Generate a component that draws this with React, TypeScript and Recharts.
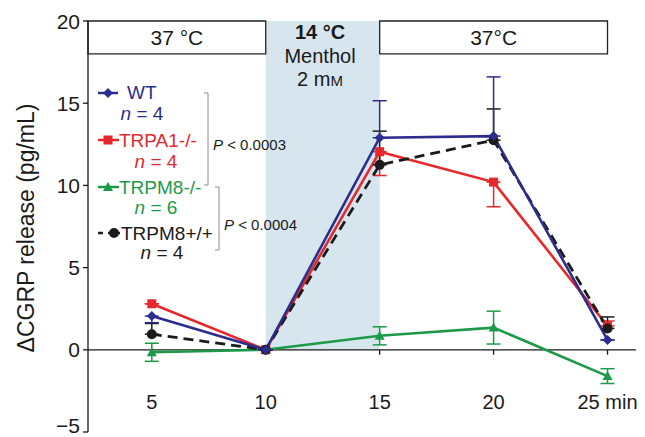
import React from "react";
import {
  LineChart,
  Line,
  XAxis,
  YAxis,
  ReferenceArea,
  ReferenceLine,
  ErrorBar,
} from "recharts";

const minutes = [5, 10, 15, 20, 25];
const xTickLabels = ["5", "10", "15", "20", "25 min"];
const yTicks = [-5, 0, 5, 10, 15, 20];

// mean values (pg/mL)
const wtValues = [2.05, 0, 12.9, 13.0, 0.6];
const trpa1Values = [2.8, 0, 12.05, 10.2, 1.45];
const trpm8KoValues = [-0.15, 0, 0.85, 1.35, -1.6];
const trpm8WtValues = [0.95, 0, 11.25, 12.75, 1.3];

// error bars as [below, above]
const wtErrors = [[0.4, 0], [0, 0], [0, 2.25], [0, 3.6], [0, 0]];
const trpa1Errors = [[0, 0], [0, 0], [1.45, 0], [1.5, 0], [0, 0.3]];
const trpm8KoErrors = [[0.55, 0.55], [0, 0], [0.55, 0.55], [1.0, 1.0], [0.45, 0.45]];
const trpm8WtErrors = [[0, 0.65], [0, 0], [0, 2.05], [0, 1.9], [0, 0.7]];

const seriesNames = ["WT", "TRPA1-/-", "TRPM8-/-", "TRPM8+/+"];
const seriesN = ["4", "4", "6", "4"];

const NAVY = "#2c2d8e";
const RED = "#e5282c";
const GREEN = "#1d9a48";
const BLACK = "#1b1b1b";
const SHADE = "#d7e6ee";
const FONT = '"Liberation Sans", Arial, sans-serif';

const data = minutes.map((t, i) => ({
  t,
  wt: wtValues[i],
  wtErr: wtErrors[i],
  trpa1: trpa1Values[i],
  trpa1Err: trpa1Errors[i],
  ko: trpm8KoValues[i],
  koErr: trpm8KoErrors[i],
  m8wt: trpm8WtValues[i],
  m8wtErr: trpm8WtErrors[i],
}));

function drawShape(shape: string, cx: number, cy: number, color: string, key?: any) {
  if (shape === "diamond") {
    return (
      <polygon
        key={key}
        points={`${cx},${cy - 5} ${cx + 5},${cy} ${cx},${cy + 5} ${cx - 5},${cy}`}
        fill={color}
      />
    );
  }
  if (shape === "square") {
    return <rect key={key} x={cx - 4.5} y={cy - 4.5} width={9} height={9} fill={color} />;
  }
  if (shape === "triangle") {
    return (
      <polygon
        key={key}
        points={`${cx},${cy - 5} ${cx + 5},${cy + 4} ${cx - 5},${cy + 4}`}
        fill={color}
      />
    );
  }
  return <circle key={key} cx={cx} cy={cy} r={5} fill={color} />;
}

const makeDot = (shape: string, color: string) => (props: any) => {
  const { cx, cy, index } = props;
  if (cx == null || cy == null) return <g key={index} />;
  return drawShape(shape, cx, cy, color, index);
};

const XTick = (props: any) => {
  const { x, y, index } = props;
  return (
    <text x={x} y={y - 23} textAnchor="middle" fontSize={20} fill="#1a1a1a" fontFamily={FONT}>
      {xTickLabels[index]}
    </text>
  );
};

const YTick = (props: any) => {
  const { x, y, payload } = props;
  const v = payload.value;
  // the lowest label sits on the page edge; nudge it up so it stays readable
  const yy = v === yTicks[0] ? y - 7 : y;
  return (
    <text x={x} y={yy} dy="0.36em" textAnchor="end" fontSize={21} fill="#1a1a1a" fontFamily={FONT}>
      {v < 0 ? `\u2212${Math.abs(v)}` : `${v}`}
    </text>
  );
};

function NText({ x, y, n, color }: { x: number; y: number; n: string; color: string }) {
  return (
    <text x={x} y={y} textAnchor="middle" fontSize={19} fill={color}>
      <tspan fontStyle="italic">n</tspan> = {n}
    </text>
  );
}

function Overlay() {
  return (
    <svg
      width={645}
      height={437}
      style={{ position: "absolute", left: 0, top: 0, pointerEvents: "none" }}
      fontFamily={FONT}
    >
      {/* y axis title */}
      <text
        x={0}
        y={0}
        transform="translate(34 228) rotate(-90)"
        textAnchor="middle"
        fontSize={23}
        fill="#1a1a1a"
      >
        ΔCGRP release (pg/mL)
      </text>

      {/* shaded period label */}
      <text x={320} y={39} textAnchor="middle" fontSize={20} fontWeight="bold" fill="#1a1a1a">
        14 °C
      </text>
      <text x={320} y={63} textAnchor="middle" fontSize={20} fill="#1a1a1a">
        Menthol
      </text>
      <text x={320} y={86} textAnchor="middle" fontSize={20} fill="#1a1a1a">
        2 m<tspan fontSize={15}>M</tspan>
      </text>

      {/* legend */}
      <line x1={98} y1={93} x2={118} y2={93} stroke={NAVY} strokeWidth={2.5} />
      {drawShape("diamond", 108, 93, NAVY)}
      <text x={127} y={99} fontSize={19} fill={NAVY}>{seriesNames[0]}</text>
      <NText x={142} y={120} n={seriesN[0]} color={NAVY} />

      <line x1={98} y1={140} x2={119} y2={140} stroke={RED} strokeWidth={2.5} />
      {drawShape("square", 108, 140, RED)}
      <text x={119} y={147} fontSize={19} fill={RED}>{seriesNames[1]}</text>
      <NText x={156} y={168} n={seriesN[1]} color={RED} />

      <line x1={98} y1={187} x2={119} y2={187} stroke={GREEN} strokeWidth={2.5} />
      {drawShape("triangle", 108, 187, GREEN)}
      <text x={119} y={194} fontSize={19} fill={GREEN}>{seriesNames[2]}</text>
      <NText x={156} y={214} n={seriesN[2]} color={GREEN} />

      <line x1={98} y1={233} x2={103} y2={233} stroke={BLACK} strokeWidth={2.5} />
      <line x1={108} y1={233} x2={120} y2={233} stroke={BLACK} strokeWidth={2.5} />
      {drawShape("circle", 114, 233, BLACK)}
      <text x={121} y={240} fontSize={19} fill={BLACK}>{seriesNames[3]}</text>
      <NText x={162} y={259} n={seriesN[3]} color={BLACK} />

      {/* significance brackets */}
      <polyline points="204,93 208,93 208,185 204,185" fill="none" stroke="#8c8c8c" strokeWidth={1} />
      <text x={213} y={150} fontSize={15} fill="#1a1a1a">
        <tspan fontStyle="italic">P</tspan> &lt; 0.0003
      </text>
      <polyline points="215,187 219,187 219,250 215,250" fill="none" stroke="#8c8c8c" strokeWidth={1} />
      <text x={224} y={230} fontSize={15} fill="#1a1a1a">
        <tspan fontStyle="italic">P</tspan> &lt; 0.0004
      </text>
    </svg>
  );
}

export default function App() {
  return (
    <div
      style={{
        position: "absolute",
        left: 0,
        top: 0,
        width: 645,
        height: 437,
        background: "#fff",
        fontFamily: FONT,
      }}
    >
      <LineChart
        width={645}
        height={437}
        data={data}
        margin={{ top: 21, right: 9, bottom: 0, left: 0 }}
      >
        <ReferenceArea x1={10} x2={15} y1={0} y2={20} fill={SHADE} fillOpacity={1} stroke="none" />
        <ReferenceArea
          x1={2.2}
          x2={10}
          y1={18}
          y2={20}
          fill="#fff"
          fillOpacity={1}
          stroke="#222"
          strokeWidth={1.3}
          label={{ value: "37 °C", position: "center", fontSize: 21, fill: "#1a1a1a" }}
        />
        <ReferenceArea
          x1={15}
          x2={25}
          y1={18}
          y2={20}
          fill="#fff"
          fillOpacity={1}
          stroke="#222"
          strokeWidth={1.3}
          label={{ value: "37°C", position: "center", fontSize: 21, fill: "#1a1a1a" }}
        />

        <XAxis
          type="number"
          dataKey="t"
          domain={[2.2, 26.25]}
          allowDataOverflow
          ticks={minutes}
          interval={0}
          height={5}
          axisLine={false}
          tickLine={false}
          tickSize={0}
          tickMargin={0}
          tick={<XTick />}
        />
        <YAxis
          type="number"
          domain={[-5, 20]}
          ticks={yTicks}
          interval={0}
          width={88}
          axisLine={{ stroke: "#1a1a1a", strokeWidth: 1.3 }}
          tickLine={{ stroke: "#1a1a1a", strokeWidth: 1.3 }}
          tickSize={5}
          tickMargin={3}
          tick={<YTick />}
        />

        <ReferenceLine y={0} stroke="#1a1a1a" strokeWidth={1.3} />
        {minutes.map((m) => (
          <ReferenceLine
            key={m}
            segment={[
              { x: m, y: 0 },
              { x: m, y: -0.3 },
            ]}
            stroke="#1a1a1a"
            strokeWidth={1.3}
          />
        ))}

        <Line
          dataKey="ko"
          stroke={GREEN}
          strokeWidth={2.6}
          dot={makeDot("triangle", GREEN)}
          activeDot={false}
          isAnimationActive={false}
        >
          <ErrorBar dataKey="koErr" width={7} stroke={GREEN} strokeWidth={1.5} direction="y" />
        </Line>
        <Line
          dataKey="trpa1"
          stroke={RED}
          strokeWidth={2.6}
          dot={makeDot("square", RED)}
          activeDot={false}
          isAnimationActive={false}
        >
          <ErrorBar dataKey="trpa1Err" width={7} stroke={RED} strokeWidth={1.5} direction="y" />
        </Line>
        <Line
          dataKey="m8wt"
          stroke={BLACK}
          strokeWidth={2.8}
          strokeDasharray="10 6"
          dot={makeDot("circle", BLACK)}
          activeDot={false}
          isAnimationActive={false}
        >
          <ErrorBar dataKey="m8wtErr" width={7} stroke={BLACK} strokeWidth={1.5} direction="y" />
        </Line>
        <Line
          dataKey="wt"
          stroke={NAVY}
          strokeWidth={2.6}
          dot={makeDot("diamond", NAVY)}
          activeDot={false}
          isAnimationActive={false}
        >
          <ErrorBar dataKey="wtErr" width={7} stroke={NAVY} strokeWidth={1.5} direction="y" />
        </Line>
      </LineChart>
      <Overlay />
    </div>
  );
}
